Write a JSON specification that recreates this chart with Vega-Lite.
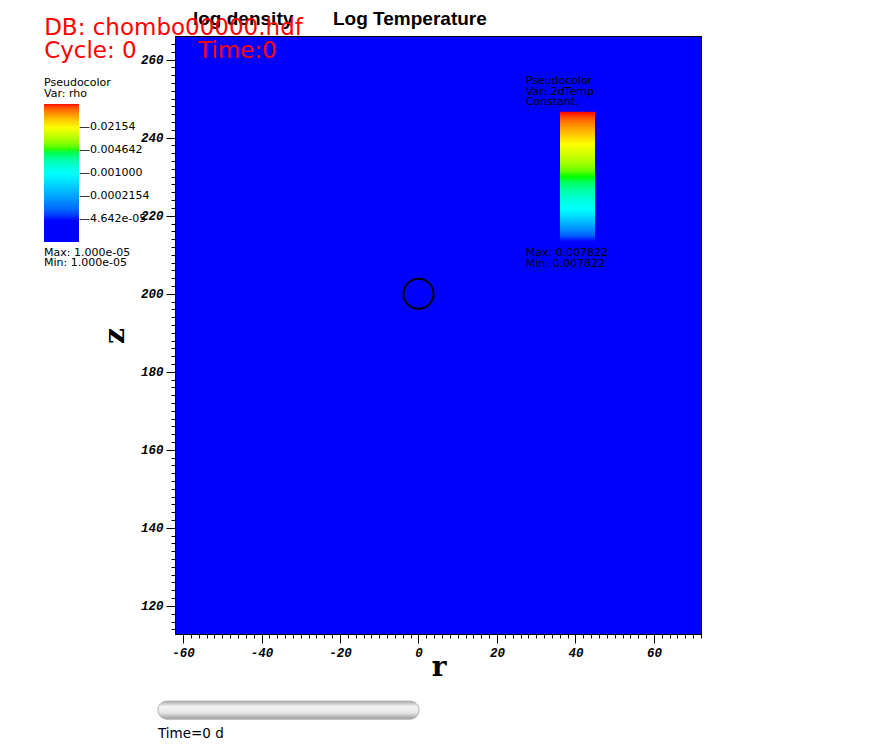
{
  "$schema": "https://vega.github.io/schema/vega-lite/v6.json",
  "width": 525,
  "height": 597,
  "autosize": "none",
  "padding": {"left": 176, "top": 37, "right": 175, "bottom": 112},
  "background": "white",
  "config": {
    "font": "DejaVu Sans",
    "view": {"stroke": "black", "strokeWidth": 2}
  },
  "datasets": {
    "mesh": [{"r": -61.8, "r2": 72.0, "z": 112.8, "z2": 265.8, "rho": 0.00001, "temp": 0.007822}],
    "sphere": [{"r": 0, "z": 200}],
    "slider": [{"r": -66.39, "r2": 0.13, "z": 95.6, "z2": 90.98}],
    "header": [
      {"text": "DB: chombo00000.hdf", "r": -95.4, "z": 266.41},
      {"text": "Cycle: 0", "r": -95.4, "z": 260.44},
      {"text": "Time:0", "r": -56.2, "z": 260.44}
    ],
    "plotTitles": [
      {"text": "log density", "r": -57.47, "z": 268.98},
      {"text": "Log Temperature", "r": -21.79, "z": 268.98}
    ],
    "legendText": [
      {"text": "Max: 1.000e-05", "r": -95.44, "z": 209.8},
      {"text": "Min: 1.000e-05", "r": -95.44, "z": 206.99},
      {"text": "Pseudocolor", "r": 27.32, "z": 253.85},
      {"text": "Var: 2dTemp", "r": 27.32, "z": 251.02},
      {"text": "Constant.", "r": 27.32, "z": 248.28},
      {"text": "Max: 0.007822", "r": 27.32, "z": 209.55},
      {"text": "Min: 0.007822", "r": 27.32, "z": 206.83}
    ],
    "timeText": [{"text": "Time=0 d", "r": -66.39, "z": 86.11}]
  },
  "encoding": {
    "x": {
      "field": "r",
      "type": "quantitative",
      "scale": {"domain": [-61.8, 72.0], "nice": false, "zero": false},
      "axis": {
        "title": "r",
        "grid": false,
        "domain": false,
        "values": [-62,-60,-58,-56,-54,-52,-50,-48,-46,-44,-42,-40,-38,-36,-34,-32,-30,-28,-26,-24,-22,-20,-18,-16,-14,-12,-10,-8,-6,-4,-2,0,2,4,6,8,10,12,14,16,18,20,22,24,26,28,30,32,34,36,38,40,42,44,46,48,50,52,54,56,58,60,62,64,66,68,70,72],
        "labelExpr": "datum.value % 20 === 0 ? '' + datum.value : ''",
        "tickSize": {"condition": {"test": "datum.value % 20 === 0", "value": 9}, "value": 4},
        "tickColor": "black",
        "tickWidth": 1,
        "labelFont": "Liberation Mono",
        "labelFontWeight": "bold",
        "labelFontStyle": "italic",
        "labelFontSize": 12.5,
        "labelColor": "black",
        "labelPadding": 3,
        "labelFlush": false,
        "labelOverlap": false,
        "titleFont": "DejaVu Serif",
        "titleFontWeight": "bold",
        "titleFontSize": 28,
        "titleColor": "black",
        "titlePadding": -5
      }
    },
    "y": {
      "field": "z",
      "type": "quantitative",
      "scale": {"domain": [112.8, 265.8], "nice": false, "zero": false},
      "axis": {
        "title": "z",
        "grid": false,
        "domain": false,
        "values": [114,116,118,120,122,124,126,128,130,132,134,136,138,140,142,144,146,148,150,152,154,156,158,160,162,164,166,168,170,172,174,176,178,180,182,184,186,188,190,192,194,196,198,200,202,204,206,208,210,212,214,216,218,220,222,224,226,228,230,232,234,236,238,240,242,244,246,248,250,252,254,256,258,260,262,264],
        "labelExpr": "datum.value % 20 === 0 ? '' + datum.value : ''",
        "tickSize": {"condition": {"test": "datum.value % 20 === 0", "value": 10}, "value": 5},
        "tickColor": "black",
        "tickWidth": 1,
        "labelFont": "Liberation Mono",
        "labelFontWeight": "bold",
        "labelFontStyle": "italic",
        "labelFontSize": 12.5,
        "labelColor": "black",
        "labelPadding": 3,
        "labelFlush": false,
        "labelOverlap": false,
        "titleFont": "DejaVu Serif",
        "titleFontWeight": "bold",
        "titleFontSize": 28,
        "titleColor": "black",
        "titlePadding": 11
      }
    }
  },
  "layer": [
    {
      "data": {"name": "mesh"},
      "mark": {"type": "rect"},
      "encoding": {
        "x2": {"field": "r2"},
        "y2": {"field": "z2"},
        "color": {
          "field": "temp",
          "type": "quantitative",
          "scale": {"type": "linear", "domain": [0.007822, 0.007823], "range": ["#0000ff", "#00ffff", "#00ff00", "#ffff00", "#ff0000"]},
          "legend": {
            "type": "gradient",
            "orient": "none",
            "legendX": 384,
            "legendY": 74.7,
            "direction": "vertical",
            "title": null,
            "padding": 0,
            "gradientLength": 130,
            "gradientThickness": 35,
            "gradientStrokeWidth": 0,
            "labelOpacity": 0,
            "labelFontSize": 1
          }
        }
      }
    },
    {
      "data": {"name": "mesh"},
      "mark": {"type": "rect"},
      "encoding": {
        "x2": {"field": "r2"},
        "y2": {"field": "z2"},
        "color": {
          "field": "rho",
          "type": "quantitative",
          "scale": {"type": "log", "domain": [0.00001, 0.00004642, 0.001, 0.004642, 0.02154, 0.1], "range": ["#0000ff", "#0000ff", "#00ffff", "#00ff00", "#ffff00", "#ff0000"]},
          "legend": {
            "type": "gradient",
            "orient": "none",
            "legendX": -132,
            "legendY": 39.5,
            "direction": "vertical",
            "title": ["Pseudocolor", "Var: rho"],
            "titleFont": "DejaVu Sans",
            "titleFontSize": 11,
            "titleFontWeight": "normal",
            "titleColor": "black",
            "titleLineHeight": 11.5,
            "titlePadding": 5,
            "titleAnchor": "start",
            "padding": 0,
            "gradientLength": 138,
            "gradientThickness": 35,
            "gradientStrokeWidth": 0,
            "values": [0.00004642, 0.0002154, 0.001, 0.004642, 0.02154],
            "labelExpr": "'\u2014' + (datum.value < 0.0001 ? '4.642e-05' : datum.value < 0.0005 ? '0.0002154' : datum.value < 0.002 ? '0.001000' : datum.value < 0.01 ? '0.004642' : '0.02154')",
            "labelFont": "DejaVu Sans",
            "labelFontSize": 11,
            "labelColor": "black",
            "labelOffset": 0,
            "labelOverlap": false
          }
        }
      }
    },
    {
      "data": {"name": "sphere"},
      "mark": {"type": "point", "shape": "circle", "size": 900, "filled": false, "stroke": "black", "strokeWidth": 2, "opacity": 1}
    },
    {
      "data": {"name": "slider"},
      "mark": {
        "type": "rect",
        "cornerRadius": 9,
        "stroke": "#b0b0b0",
        "strokeWidth": 1,
        "color": {
          "gradient": "linear",
          "x1": 0, "y1": 0, "x2": 0, "y2": 1,
          "stops": [
            {"offset": 0, "color": "#a8a8a8"},
            {"offset": 0.3, "color": "#f4f4f4"},
            {"offset": 0.65, "color": "#e6e6e6"},
            {"offset": 1, "color": "#9a9a9a"}
          ]
        }
      },
      "encoding": {
        "x2": {"field": "r2"},
        "y2": {"field": "z2"}
      }
    },
    {
      "data": {"name": "legendText"},
      "mark": {"type": "text", "align": "left", "baseline": "alphabetic", "font": "DejaVu Sans", "fontSize": 11, "color": "black"},
      "encoding": {"text": {"field": "text"}}
    },
    {
      "data": {"name": "timeText"},
      "mark": {"type": "text", "align": "left", "baseline": "alphabetic", "font": "DejaVu Sans", "fontSize": 13.5, "color": "black"},
      "encoding": {"text": {"field": "text"}}
    },
    {
      "data": {"name": "plotTitles"},
      "mark": {"type": "text", "align": "left", "baseline": "alphabetic", "font": "Liberation Sans", "fontWeight": "bold", "fontSize": 19, "color": "black"},
      "encoding": {"text": {"field": "text"}}
    },
    {
      "data": {"name": "header"},
      "mark": {"type": "text", "align": "left", "baseline": "alphabetic", "font": "DejaVu Sans", "fontSize": 23, "color": "#ff0000"},
      "encoding": {"text": {"field": "text"}}
    }
  ],
  "resolve": {"scale": {"color": "independent"}}
}
